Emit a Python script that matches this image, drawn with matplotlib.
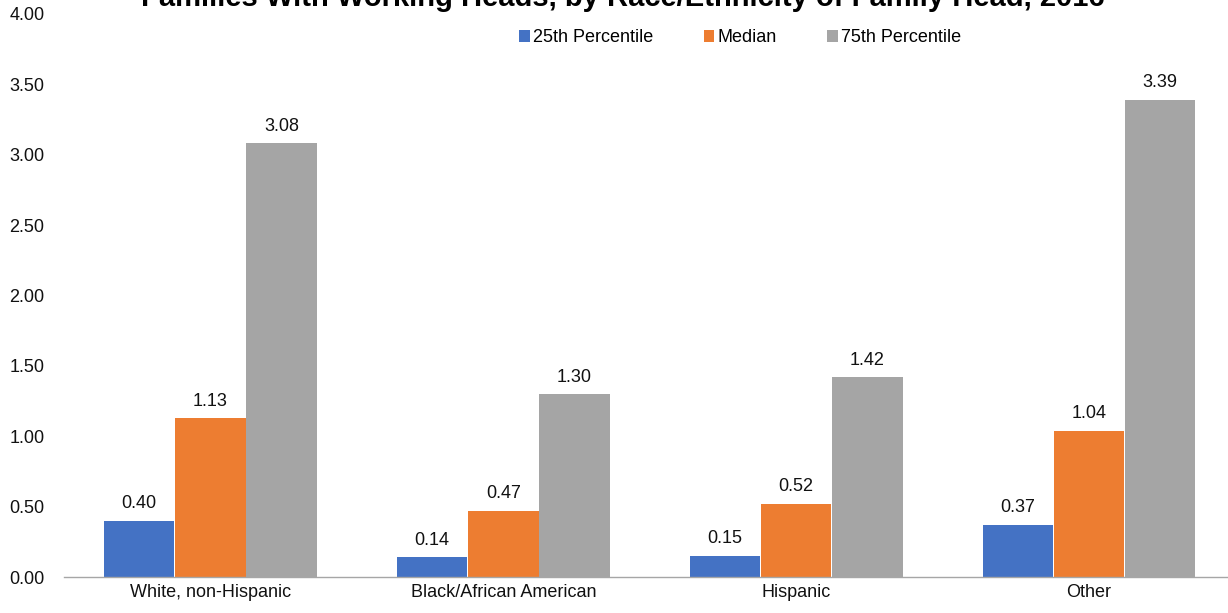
import numpy as np
import matplotlib
matplotlib.use("Agg")
import matplotlib.pyplot as plt

plt.rcParams['font.family'] = ['Liberation Sans', 'DejaVu Sans']

groups = ['White, non-Hispanic', 'Black/African American', 'Hispanic', 'Other']
p25 = [0.40, 0.14, 0.15, 0.37]
median = [1.13, 0.47, 0.52, 1.04]
p75 = [3.08, 1.30, 1.42, 3.39]
series_names = ['25th Percentile', 'Median', '75th Percentile']
colors = ['#4472C4', '#ED7D31', '#A5A5A5']
yticks = [0.0, 0.5, 1.0, 1.5, 2.0, 2.5, 3.0, 3.5, 4.0]

fig = plt.figure(figsize=(12.28, 6.13), dpi=100)
ax = fig.add_axes([64 / 1228, 1 - 577 / 613, (1235.5 - 64) / 1228, (577 - 14) / 613])

x = np.arange(len(groups))
width = 0.243
for i, (vals, name, col) in enumerate(zip([p25, median, p75], series_names, colors)):
    bars = ax.bar(x + (i - 1) * width, vals, width * 0.99, color=col, label=name)
    for b, v in zip(bars, vals):
        ax.text(b.get_x() + b.get_width() / 2, v + 0.06, f'{v:.2f}',
                ha='center', va='bottom', fontsize=13, color='#111111')

ax.set_xlim(-0.5, 3.5)
ax.set_ylim(0, 4.0)
ax.set_yticks(yticks)
ax.set_yticklabels([f'{t:.2f}' for t in yticks])
ax.set_xticks(x)
ax.set_xticklabels(groups)
ax.tick_params(length=0, labelsize=13, colors='#111111')
ax.tick_params(axis='y', pad=14)
ax.tick_params(axis='x', pad=5)
for s in ['top', 'right', 'left']:
    ax.spines[s].set_visible(False)
ax.spines['bottom'].set_color('#A6A6A6')
ax.spines['bottom'].set_linewidth(1.0)

# title sits partly above the top edge of the canvas
fig.text(0.507, 1 - 6 / 613, 'Families With Working Heads, by Race/Ethnicity of Family Head, 2016',
         ha='center', va='baseline', fontsize=21, fontweight='bold')

fig.legend(loc='center', bbox_to_anchor=(0.6026, 1 - 38 / 613), ncol=3, frameon=False,
           fontsize=13, handlelength=0.6, handleheight=0.6, handletextpad=0.15,
           columnspacing=2.8)

fig.savefig('out.png', dpi=100)
